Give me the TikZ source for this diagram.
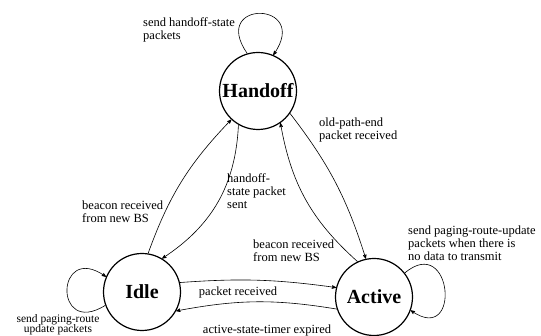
\documentclass[tikz,border=0pt]{standalone}
\usepackage{fontspec}
\setmainfont{Liberation Serif}
\usetikzlibrary{arrows}

\begin{document}
\begin{tikzpicture}[x=1pt, y=1pt]
\tikzset{
   node distance = 201pt, >=stealth',
   state/.style = {circle, draw, line width = 1.2pt, minimum size = 77pt, inner sep = 0pt, font = \fontsize{20}{22}\selectfont\bfseries},
   note/.style = {align = left, inner sep = 0pt, anchor = west, font = \fontsize{12.5}{13}\selectfont},
   trans/.style = {->, line width = 0.6pt}
 }
  \useasboundingbox (0,0) rectangle (541,336);

  \node [state] (handoff) at (258,245) {Handoff};
  \node [state] (idle) [below of = handoff, xshift = -116pt] {Idle};
  \node [state] (active) [below of = handoff, xshift = 116pt, yshift = -5pt] {Active};

  % self loops
  \draw [trans] (handoff.106) to [out = 125, in = 55, looseness = 6.5] (handoff.67);
  \draw [trans] (idle.200) to [out = 212, in = 145, looseness = 5.5] (idle.157);
  \draw [trans] (active.38) to [out = 40, in = -35, looseness = 4.2] (active.-20);

  % transitions
  \draw [trans] (idle.81) to [bend left = 12] (handoff.227);
  \draw [trans] (handoff.240) to [bend left = 27] (idle.59);
  \draw [trans] (handoff.-35) to [bend left = 10] (active.102);
  \draw [trans] (active.115) to [bend left = 19] (handoff.-55);
  \draw [trans] (idle.14) to [bend left = 6] (active.166);
  \draw [trans] (active.198) to [bend right = 10] (idle.-29);

  % labels
  \node [note] (l_hloop) at (143,306) {send handoff-state\\packets};
  \node [note] (l_ih) at (82,124) {beacon received\\from new BS};
  \node [note] (l_hi) at (227,145) {handoff-\\state packet\\sent};
  \node [note] (l_ha) at (319,206) {old-path-end\\packet received};
  \node [note] (l_ah) at (253,85) {beacon received\\from new BS};
  \node [note] (l_aloop) at (408,93) {send paging-route-update\\packets when there is\\no data to transmit};
  \node [note, anchor = center] (l_ia) at (238,44) {packet received};
  \node [note, anchor = center] (l_ai) at (267,6) {active-state-timer expired};
  \node [note, anchor = south, align = center, font = \fontsize{11.5}{10.5}\selectfont] (l_iloop) at (58,0.5) {send paging-route\\update packets};
\end{tikzpicture}
\end{document}
